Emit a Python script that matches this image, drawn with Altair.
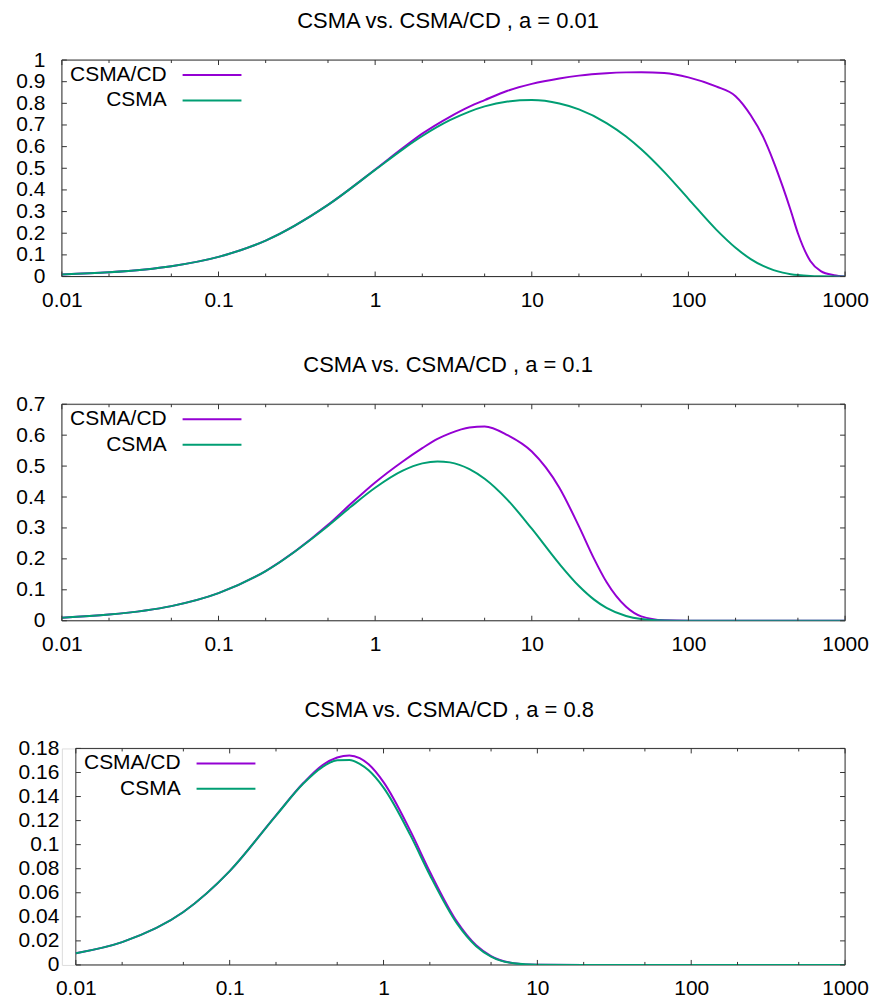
import altair as alt
import pandas as pd

FONT = "Liberation Sans"
SERIES = ["CSMA/CD", "CSMA"]
COLORS = ["#9400d3", "#009e73"]
TITLES = ["CSMA vs. CSMA/CD , a = 0.01",
          "CSMA vs. CSMA/CD , a = 0.1",
          "CSMA vs. CSMA/CD , a = 0.8"]

# ---- panel 1 : a = 0.01 ----
G1 = [0.01, 0.02, 0.05, 0.1, 0.2, 0.5, 1, 1.5, 2, 3, 4, 5, 7, 10, 15, 20, 30, 40, 50, 70,
      100, 150, 200, 250, 300, 350, 400, 450, 500, 600, 700, 850, 1000]
CSMACD1 = [0.0099, 0.0196, 0.0476, 0.0907, 0.166, 0.331, 0.494, 0.593, 0.66, 0.738, 0.785, 0.815,
           0.858, 0.89, 0.915, 0.928, 0.939, 0.943, 0.944, 0.940,
           0.92, 0.878, 0.833, 0.745, 0.645, 0.53, 0.415, 0.305, 0.2, 0.072, 0.025, 0.006, 0.0]
CSMA1 = [0.0099, 0.0196, 0.0476, 0.0907, 0.166, 0.331, 0.4925, 0.5875, 0.649, 0.722, 0.762, 0.786,
         0.808, 0.815, 0.799, 0.772, 0.709, 0.647, 0.588, 0.4835,
         0.359, 0.218, 0.133, 0.0805, 0.0488, 0.0296, 0.018, 0.0109, 0.0066, 0.0024, 0.0009, 0.0002, 0.00004]

# ---- panel 2 : a = 0.1 ----
G2 = [0.01, 0.02, 0.05, 0.1, 0.2, 0.5, 0.7, 1, 1.5, 2, 2.5, 3, 4, 5, 7, 10, 15, 20, 25, 30,
      40, 50, 70, 100, 1000]
CSMACD2 = [0.00988, 0.0198, 0.0472, 0.0892, 0.1607, 0.310, 0.378, 0.447, 0.515, 0.558, 0.588,
           0.606, 0.625, 0.628, 0.600, 0.547, 0.43, 0.305, 0.20, 0.125,
           0.045, 0.014, 0.0015, 0.0, 0.0]
CSMA2 = [0.00988, 0.0198, 0.0472, 0.0892, 0.1607, 0.3066, 0.3683, 0.4299, 0.4852, 0.5087, 0.5152,
         0.5120, 0.4902, 0.4590, 0.3907, 0.2975, 0.1837, 0.1122, 0.0682, 0.0414,
         0.0153, 0.0056, 0.0008, 0.00004, 0.0]

# ---- panel 3 : a = 0.8 ----
G3 = [0.01, 0.02, 0.05, 0.1, 0.2, 0.3, 0.4, 0.5, 0.6, 0.7, 0.8, 1, 1.5, 2, 3, 4, 5, 7, 10, 20, 1000]
CSMACD3 = [0.00975, 0.0190, 0.0440, 0.0780, 0.1243, 0.1510, 0.1660, 0.1725, 0.1742, 0.1720, 0.1668,
           0.1520, 0.1110, 0.0775, 0.0360, 0.0163, 0.0074, 0.0015, 0.00014, 0.0, 0.0]
CSMA3 = [0.00975, 0.0190, 0.0440, 0.0780, 0.1242, 0.1506, 0.1645, 0.1701, 0.1704, 0.1672, 0.1618,
         0.1474, 0.1075, 0.0748, 0.0345, 0.0156, 0.0070, 0.0014, 0.00013, 0.0, 0.0]

X_MAJOR = [0.01, 0.1, 1, 10, 100, 1000]
X_MINOR = [0.02, 0.05, 0.2, 0.5, 2, 5, 20, 50, 200, 500]
Y_TICKS1 = [0, 0.1, 0.2, 0.3, 0.4, 0.5, 0.6, 0.7, 0.8, 0.9, 1]
Y_TICKS2 = [0, 0.1, 0.2, 0.3, 0.4, 0.5, 0.6, 0.7]
Y_TICKS3 = [0, 0.02, 0.04, 0.06, 0.08, 0.1, 0.12, 0.14, 0.16, 0.18]

W = 785
H = 217
FRAME = "#333333"


def panel(title, g, cd, cs, yticks, inset):
    xs = alt.Scale(type="log", domain=[0.01, 1000], nice=False, range=[inset, W])
    ys = alt.Scale(domain=[yticks[0], yticks[-1]], nice=False, zero=True)
    xaxis = alt.Axis(values=X_MAJOR, format="~g", ticks=False, tickSize=0, domain=False, grid=False,
                     labelFontSize=21, labelFont=FONT, labelColor="black", labelPadding=13,
                     labelFlush=False, labelOverlap=False, title=None)
    yaxis = alt.Axis(values=yticks, format="~g", ticks=False, tickSize=0, domain=False, grid=False,
                     labelFontSize=21, labelFont=FONT, labelColor="black", labelPadding=17,
                     labelFlush=False, labelOverlap=False, title=None, offset=-inset)
    layers = []
    # plot frame
    layers.append(
        alt.Chart(pd.DataFrame({"f": [0]})).mark_rect(filled=False, stroke=FRAME, strokeWidth=1)
        .encode(x=alt.value(inset), x2=alt.value(W), y=alt.value(0), y2=alt.value(H))
    )
    # lines: CSMA/CD first, CSMA on top
    for name, color, vals in zip(SERIES, COLORS, (cd, cs)):
        d = pd.DataFrame({"G": g, "S": vals, "series": name})
        layers.append(
            alt.Chart(d).mark_line(color=color, strokeWidth=2, interpolate="monotone", clip=True)
            .encode(x=alt.X("G:Q", scale=xs, axis=xaxis), y=alt.Y("S:Q", scale=ys, axis=yaxis))
        )
    # inward tick marks (gnuplot style, mirrored)
    for vals, ln in ((X_MAJOR, 5), (X_MINOR, 3)):
        d = pd.DataFrame({"v": vals})
        base = alt.Chart(d).mark_rule(color=FRAME, strokeWidth=1)
        layers.append(base.encode(x=alt.X("v:Q", scale=xs, axis=xaxis), y=alt.value(H), y2=alt.value(H - ln)))
        layers.append(base.encode(x=alt.X("v:Q", scale=xs, axis=xaxis), y=alt.value(0), y2=alt.value(ln)))
    dy = pd.DataFrame({"v": yticks})
    by = alt.Chart(dy).mark_rule(color=FRAME, strokeWidth=1)
    layers.append(by.encode(y=alt.Y("v:Q", scale=ys, axis=yaxis), x=alt.value(inset), x2=alt.value(inset + 5)))
    layers.append(by.encode(y=alt.Y("v:Q", scale=ys, axis=yaxis), x=alt.value(W), x2=alt.value(W - 5)))
    # key (label left, line sample right)
    for i, (name, color) in enumerate(zip(SERIES, COLORS)):
        d = pd.DataFrame({"label": [name]})
        yy = 15 + 25.5 * i
        layers.append(
            alt.Chart(d).mark_text(align="right", baseline="middle", fontSize=21, font=FONT, color="black")
            .encode(x=alt.value(inset + 105), y=alt.value(yy), text="label:N")
        )
        layers.append(
            alt.Chart(d).mark_rule(color=color, strokeWidth=2)
            .encode(x=alt.value(inset + 121), x2=alt.value(inset + 180), y=alt.value(yy))
        )
    return alt.layer(*layers).properties(
        width=W, height=H,
        title=alt.TitleParams(title, fontSize=22, font=FONT, fontWeight="normal", color="black",
                              anchor="middle", frame="bounds", dx=6, offset=16, baseline="top"),
    )


p1 = panel(TITLES[0], G1, CSMACD1, CSMA1, Y_TICKS1, 0)
p2 = panel(TITLES[1], G2, CSMACD2, CSMA2, Y_TICKS2, 0)
p3 = panel(TITLES[2], G3, CSMACD3, CSMA3, Y_TICKS3, 14)

chart = (
    alt.concat(p1, p2, p3, columns=1, align="none", spacing=42)
    .properties(padding={"left": 7, "top": 0, "right": 0, "bottom": 0}, background="white")
    .configure_view(stroke=None)
    .configure(font=FONT)
)

chart.save("out.html", embed_options={"renderer": "svg", "actions": False})
